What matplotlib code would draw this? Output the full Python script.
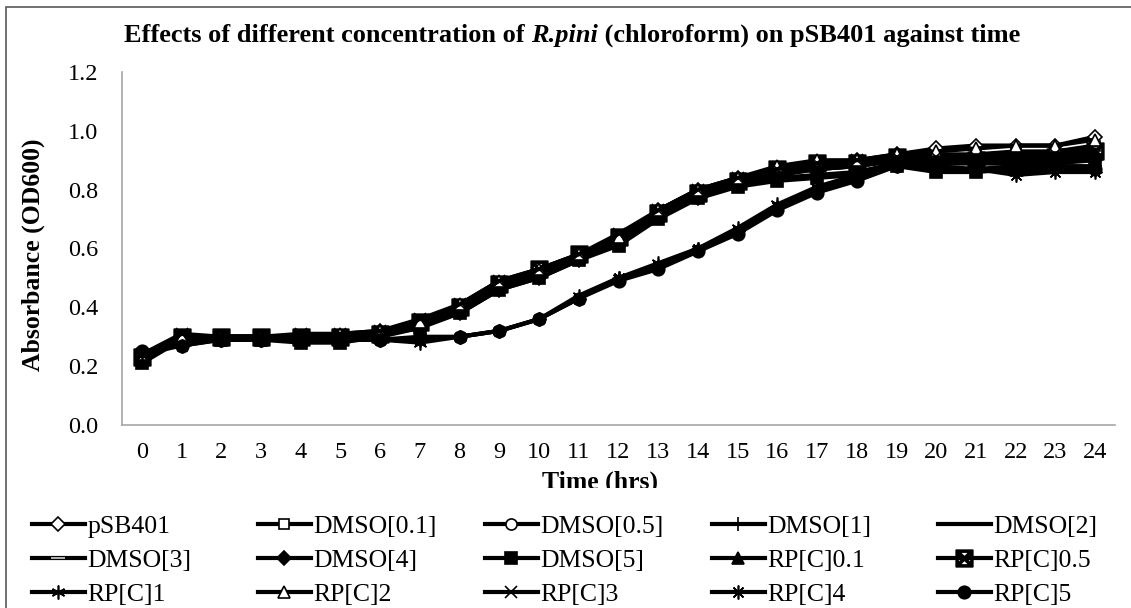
import numpy as np
import matplotlib
matplotlib.use("Agg")
import matplotlib.pyplot as plt
from matplotlib.patches import Rectangle

plt.rcParams['font.family'] = ['Liberation Serif', 'DejaVu Serif']

hours = list(range(25))

names = ['pSB401', 'DMSO[0.1]', 'DMSO[0.5]', 'DMSO[1]', 'DMSO[2]',
         'DMSO[3]', 'DMSO[4]', 'DMSO[5]', 'RP[C]0.1', 'RP[C]0.5',
         'RP[C]1', 'RP[C]2', 'RP[C]3', 'RP[C]4', 'RP[C]5']

psb401 = [0.24, 0.30, 0.30, 0.30, 0.30, 0.30, 0.32, 0.35, 0.40, 0.48, 0.52, 0.58, 0.64,
          0.73, 0.80, 0.84, 0.87, 0.89, 0.90, 0.92, 0.94, 0.95, 0.95, 0.95, 0.98]
dmso_01 = [0.22, 0.29, 0.29, 0.29, 0.29, 0.29, 0.31, 0.34, 0.39, 0.47, 0.51, 0.57, 0.63,
           0.72, 0.79, 0.83, 0.86, 0.88, 0.89, 0.91, 0.91, 0.92, 0.93, 0.93, 0.95]
dmso_05 = [0.23, 0.29, 0.30, 0.30, 0.29, 0.30, 0.31, 0.35, 0.40, 0.48, 0.52, 0.57, 0.63,
           0.72, 0.78, 0.83, 0.86, 0.87, 0.88, 0.90, 0.89, 0.89, 0.89, 0.89, 0.91]
dmso_1 = [0.22, 0.29, 0.30, 0.29, 0.30, 0.30, 0.31, 0.34, 0.39, 0.47, 0.51, 0.56, 0.62,
          0.71, 0.78, 0.82, 0.85, 0.87, 0.88, 0.90, 0.89, 0.89, 0.89, 0.90, 0.92]
dmso_2 = [0.23, 0.30, 0.30, 0.30, 0.30, 0.30, 0.31, 0.35, 0.40, 0.48, 0.52, 0.57, 0.63,
          0.72, 0.79, 0.83, 0.86, 0.88, 0.89, 0.91, 0.92, 0.92, 0.92, 0.93, 0.94]
dmso_3 = [0.22, 0.29, 0.30, 0.30, 0.30, 0.30, 0.31, 0.34, 0.39, 0.47, 0.51, 0.56, 0.62,
          0.71, 0.78, 0.82, 0.85, 0.87, 0.88, 0.90, 0.90, 0.91, 0.91, 0.92, 0.94]
dmso_4 = [0.22, 0.29, 0.29, 0.29, 0.29, 0.29, 0.30, 0.34, 0.38, 0.46, 0.50, 0.56, 0.62,
          0.71, 0.77, 0.82, 0.84, 0.85, 0.86, 0.89, 0.87, 0.87, 0.88, 0.89, 0.90]
dmso_5 = [0.21, 0.29, 0.29, 0.29, 0.28, 0.28, 0.30, 0.33, 0.38, 0.46, 0.50, 0.56, 0.61,
          0.70, 0.77, 0.81, 0.83, 0.84, 0.85, 0.88, 0.86, 0.86, 0.87, 0.88, 0.88]
rp_01 = [0.23, 0.30, 0.30, 0.30, 0.30, 0.30, 0.31, 0.35, 0.40, 0.48, 0.52, 0.57, 0.63,
         0.72, 0.79, 0.83, 0.86, 0.88, 0.89, 0.91, 0.90, 0.90, 0.90, 0.90, 0.92]
rp_05 = [0.23, 0.30, 0.30, 0.30, 0.30, 0.30, 0.31, 0.35, 0.40, 0.48, 0.53, 0.58, 0.64,
         0.72, 0.79, 0.83, 0.87, 0.89, 0.89, 0.91, 0.90, 0.90, 0.90, 0.91, 0.93]
rp_1 = [0.24, 0.28, 0.29, 0.29, 0.29, 0.29, 0.29, 0.28, 0.30, 0.32, 0.36, 0.44, 0.50,
        0.55, 0.60, 0.67, 0.75, 0.81, 0.85, 0.89, 0.88, 0.87, 0.86, 0.87, 0.87]
rp_2 = [0.24, 0.30, 0.30, 0.30, 0.30, 0.31, 0.32, 0.35, 0.41, 0.49, 0.53, 0.58, 0.64,
        0.73, 0.80, 0.84, 0.88, 0.90, 0.90, 0.92, 0.93, 0.94, 0.95, 0.95, 0.97]
rp_3 = [0.24, 0.31, 0.30, 0.30, 0.31, 0.31, 0.32, 0.36, 0.41, 0.49, 0.53, 0.58, 0.65,
        0.73, 0.80, 0.84, 0.87, 0.89, 0.90, 0.91, 0.91, 0.91, 0.91, 0.92, 0.93]
rp_4 = [0.24, 0.27, 0.29, 0.29, 0.29, 0.29, 0.29, 0.29, 0.30, 0.32, 0.36, 0.43, 0.50,
        0.54, 0.60, 0.66, 0.74, 0.80, 0.84, 0.88, 0.87, 0.87, 0.85, 0.86, 0.86]
rp_5 = [0.25, 0.27, 0.29, 0.29, 0.29, 0.29, 0.29, 0.30, 0.30, 0.32, 0.36, 0.43, 0.49,
        0.53, 0.59, 0.65, 0.73, 0.79, 0.83, 0.88, 0.89, 0.89, 0.89, 0.88, 0.87]

series = [psb401, dmso_01, dmso_05, dmso_1, dmso_2, dmso_3, dmso_4, dmso_5,
          rp_01, rp_05, rp_1, rp_2, rp_3, rp_4, rp_5]

# marker, face colour, edge colour, size
styles = [
    ('D', 'white', 'black', 7),
    ('s', 'white', 'black', 7),
    ('o', 'white', 'black', 8),
    ('+', 'black', 'black', 10),
    ('None', 'black', 'black', 7),
    ('_', '#d0d0d0', '#d0d0d0', 10),
    ('D', 'black', 'black', 7),
    ('s', 'black', 'black', 9),
    ('^', 'black', 'black', 9),
    (r'$\boxtimes$', 'black', 'black', 12),
    ((6, 2, 0), 'black', 'black', 10),
    ('^', 'white', 'black', 9),
    ('x', 'black', 'black', 9),
    ((8, 2, 0), 'black', 'black', 10),
    ('o', 'black', 'black', 9),
]

fig = plt.figure(figsize=(11.31, 6.08), dpi=100)
W, H = 1131, 608
ax = fig.add_axes([122 / W, 1 - 425 / H, (1115 - 122) / W, (425 - 72) / H])

handles = []
for name, ys, (m, fc, ec, ms) in zip(names, series, styles):
    h, = ax.plot(hours, ys, color='black', lw=3, marker=m, markersize=ms,
                 markerfacecolor=fc, markeredgecolor=ec, markeredgewidth=1.2,
                 label=name)
    handles.append(h)

ax.set_xlim(-0.5, 24.5)
ax.set_ylim(0, 1.2)
ax.set_xticks(hours)
ax.set_yticks(np.arange(0, 1.21, 0.2))
ax.set_yticklabels(['{:.1f}'.format(v) for v in np.arange(0, 1.21, 0.2)])
ax.tick_params(axis='both', length=0, labelsize=17.5)
ax.tick_params(axis='x', pad=12)
ax.tick_params(axis='y', pad=17)
for side in ['top', 'right']:
    ax.spines[side].set_visible(False)
for side in ['left', 'bottom']:
    ax.spines[side].set_color('#a6a6a6')
    ax.spines[side].set_linewidth(1.2)

# title in three pieces so that the species name can be bold italic
parts = [('Effects of different concentration of ', 'normal'),
         ('R.pini', 'italic'),
         (' (chloroform) on pSB401 against time', 'normal')]
renderer = fig.canvas.get_renderer()
pieces = []
for txt, style in parts:
    t = fig.text(0, 1 - 42 / H, txt, ha='left', va='baseline', fontsize=19,
                 fontweight='bold', fontstyle=style)
    pieces.append((t, t.get_window_extent(renderer).width))
total = sum(w for _, w in pieces)
x0 = 572 - total / 2
for t, w in pieces:
    t.set_x(x0 / W)
    x0 += w

fig.text(33 / W, 1 - 255 / H, 'Absorbance (OD600)', rotation=90,
         ha='center', va='center', fontsize=18.5, fontweight='bold')
fig.text(600 / W, 1 - 482 / H, 'Time (hrs)', ha='center', va='center',
         fontsize=18.5, fontweight='bold', zorder=1)

# white band hides the bottom of the x label, as in the original
fig.patches.append(Rectangle((7 / W, 0), 1, 1 - 488 / H, transform=fig.transFigure,
                             facecolor='white', edgecolor='none', zorder=2))
# outer chart border
fig.patches.append(Rectangle((6 / W, -0.1), 1.1, 1.1 - 7 / H, transform=fig.transFigure,
                             facecolor='none', edgecolor='#595959', lw=1.2, zorder=3))

col_x = [32, 258, 485, 712, 938]
for c, x in enumerate(col_x):
    hs = [handles[r * 5 + c] for r in range(3)]
    leg = fig.legend(handles=hs, labels=[h.get_label() for h in hs],
                     loc='upper left', bbox_to_anchor=(x / W, 1 - 515 / H),
                     frameon=False, fontsize=18.5, borderpad=0, borderaxespad=0,
                     handlelength=2.05, handletextpad=0.1, labelspacing=0.42)
    leg.set_zorder(4)

fig.savefig('out.png', dpi=100)
